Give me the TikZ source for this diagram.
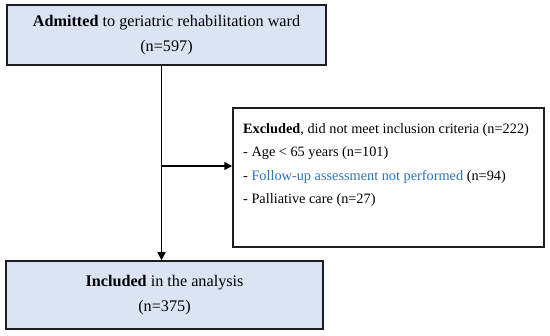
\documentclass[tikz,border=0pt]{standalone}
\usepackage{fontspec}
\setmainfont{Liberation Serif}
\usetikzlibrary{arrows.meta}
\definecolor{boxfill}{RGB}{218,228,242}
\definecolor{boxline}{RGB}{30,30,30}
\definecolor{linkblue}{RGB}{46,117,182}
\begin{document}
\begin{tikzpicture}[x=1pt,y=-1pt,
  mainbox/.style={draw=boxline,line width=1.5pt,fill=boxfill,minimum width=#1,inner sep=0pt,align=center,font=\fontsize{16.2}{25}\selectfont},
  arr/.style={line width=1.5pt,-{Triangle[length=8pt,width=8pt]}}]
\useasboundingbox (0,0) rectangle (550,336);
\node[mainbox=319pt,minimum height=60pt] (top) at (166.5,35) {\textbf{Admitted} to geriatric rehabilitation ward\\(n=597)};
\node[mainbox=317pt,minimum height=68pt] (bottom) at (164.5,295) {\textbf{Included} in the analysis\\(n=375)};
\node[draw=boxline,line width=1.5pt,minimum width=311pt,minimum height=139pt,inner sep=0pt] (excl) at (388.5,177.5) {};
\node[anchor=west,align=left,inner sep=0pt,font=\fontsize{14.3}{23.3}\selectfont] (excltext) at (243,165) {\textbf{Excluded}, did not meet inclusion criteria (n=222)\\- Age < 65 years (n=101)\\- \textcolor{linkblue}{Follow-up assessment not performed} (n=94)\\- Palliative care (n=27)};
\coordinate (j) at (161.5,166);
\draw[arr] (top.south -| j) -- (bottom.north -| j);
\draw[arr] (j) -- (excl.west |- j);
\end{tikzpicture}
\end{document}
